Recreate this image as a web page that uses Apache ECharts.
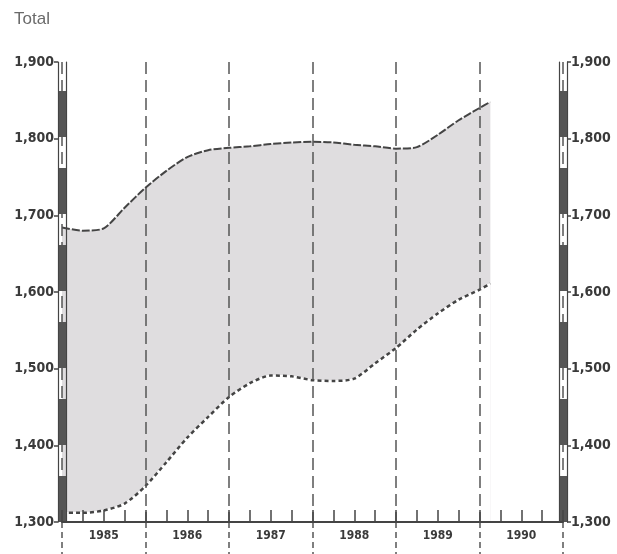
<!DOCTYPE html>
<html><head><meta charset="utf-8">
<script src="https://cdn.jsdelivr.net/npm/echarts@6/dist/echarts.min.js"></script>
<style>html,body{margin:0;padding:0;background:#fff}#c{width:617px;height:554px}</style>
</head><body><div id="c"></div>
<script>
// time in decimal years (quarterly), upper and lower bounds of the band
const times = [1985.00,1985.25,1985.50,1985.75,1986.00,1986.25,1986.50,1986.75,1987.00,1987.25,1987.50,1987.75,1988.00,1988.25,1988.50,1988.75,1989.00,1989.25,1989.50,1989.75,1990.00,1990.13];
const upper = [1684,1680,1683,1710,1736,1758,1776,1785,1788,1790,1793,1795,1796,1795,1792,1790,1787,1789,1805,1824,1840,1848];
const lower = [1312,1312,1315,1324,1347,1378,1410,1437,1463,1481,1491,1490,1485,1484,1487,1507,1527,1551,1572,1590,1603,1611];
const yearLabels = ['1985','1986','1987','1988','1989','1990'];
const yMin = 1300, yMax = 1900, yStep = 100;

const FONT = "'DejaVu Sans Condensed','Liberation Sans Narrow','DejaVu Sans',sans-serif";
const INK = '#444';
const fmtY = v => { const s = String(v); return s.slice(0, 1) + ',' + s.slice(1); };

const upperData = times.map((t, i) => [t, upper[i]]);
const lowerData = times.map((t, i) => [t, lower[i]]);

const baseY = { type: 'value', min: yMin, max: yMax, interval: yStep, splitLine: { show: false }, z: 5 };
function yAx(pos, offset, opts) {
  return Object.assign({}, baseY, {
    position: pos, offset: offset,
    axisLine: { show: true, lineStyle: { color: INK, width: 1.2 } },
    axisTick: { show: false }, axisLabel: { show: false }
  }, opts);
}
const yLabelStyle = { color: '#3a3a3a', fontFamily: FONT, fontWeight: 'bold', fontSize: 14 };
const xLabelStyle = { color: '#3a3a3a', fontFamily: FONT, fontWeight: 'bold', fontSize: 12 };

const chart = echarts.init(document.getElementById('c'), null, { renderer: 'canvas' });
chart.setOption({
  animation: false,
  backgroundColor: '#fff',
  title: { text: 'Total', left: 9, top: 6, textStyle: { color: '#6a6a6a', fontFamily: "'Liberation Sans',Arial,sans-serif", fontWeight: 'normal', fontSize: 17 } },
  grid: { left: 62, right: 54, top: 62, bottom: 32, containLabel: false, outerBoundsMode: 'none' },
  xAxis: [
    { type: 'value', min: 1985, max: 1991, interval: 0.5, position: 'bottom', z: 6,
      axisLine: { show: true, lineStyle: { color: INK, width: 2 } },
      axisTick: { show: false }, splitLine: { show: false },
      axisLabel: Object.assign({ margin: 8, formatter: v => (Math.abs(v % 1 - 0.5) < 1e-6 ? yearLabels[Math.floor(v) - 1985] : '') }, xLabelStyle) },
    { type: 'value', min: 1985, max: 1991, interval: 0.25, position: 'bottom', z: 5,
      axisLine: { show: false }, axisLabel: { show: false }, splitLine: { show: false },
      axisTick: { show: true, inside: true, length: 12, lineStyle: { color: INK, width: 1.5 } } },
    { type: 'value', min: 1985, max: 1991, interval: 1, position: 'bottom', z: 5,
      axisLine: { show: false }, axisLabel: { show: false },
      axisTick: { show: true, inside: false, length: 32, lineStyle: { color: '#555', width: 1.5, type: [6, 4] } },
      splitLine: { show: true, lineStyle: { color: '#555', width: 1.5, type: [12, 6] } } }
  ],
  yAxis: [
    yAx('left', 4, { axisTick: { show: true, length: 4, lineStyle: { color: INK, width: 1.5 } },
      axisLabel: Object.assign({ show: true, margin: 4, formatter: fmtY }, yLabelStyle) }),
    yAx('left', -4, {}),
    yAx('left', 0, { axisLine: { show: true, lineStyle: { color: '#555', width: 7, type: [46, 31], cap: 'butt' } } }),
    yAx('right', 4, { axisTick: { show: true, length: 4, lineStyle: { color: INK, width: 1.5 } },
      axisLabel: Object.assign({ show: true, margin: 4, formatter: fmtY }, yLabelStyle) }),
    yAx('right', -4, {}),
    yAx('right', 0, { axisLine: { show: true, lineStyle: { color: '#555', width: 7, type: [46, 31], cap: 'butt' } } })
  ],
  series: [
    { type: 'line', name: 'bandTop', data: upperData, symbol: 'none', smooth: 0.25,
      lineStyle: { opacity: 0 }, areaStyle: { color: '#dfdddf', opacity: 1, origin: 'start' }, z: 1 },
    { type: 'line', name: 'bandBottom', data: lowerData, symbol: 'none', smooth: 0.25,
      lineStyle: { color: '#ffffff', width: 1.5, opacity: 1 }, areaStyle: { color: '#ffffff', opacity: 1, origin: 'start' }, z: 1 },
    { type: 'line', name: 'Upper', data: upperData, symbol: 'none', smooth: 0.25,
      lineStyle: { color: INK, width: 2, type: [8, 2] }, z: 3 },
    { type: 'line', name: 'Lower', data: lowerData, symbol: 'none', smooth: 0.25,
      lineStyle: { color: INK, width: 2.5, type: [4, 3] }, z: 3 }
  ]
});
</script></body></html>
